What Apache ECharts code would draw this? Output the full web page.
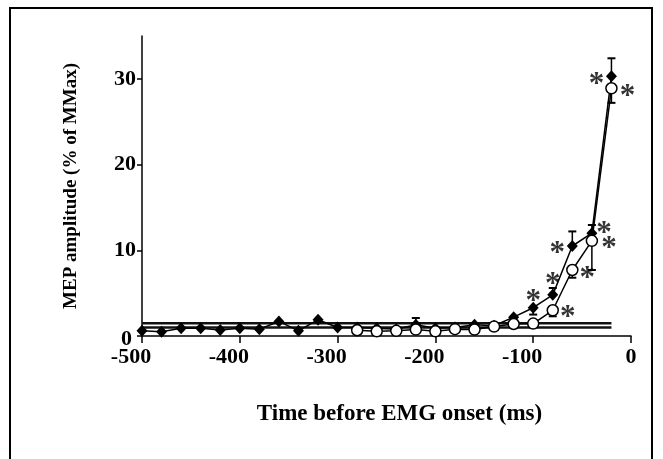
<!DOCTYPE html>
<html>
<head>
<meta charset="utf-8">
<script src="https://cdn.jsdelivr.net/npm/echarts@6/dist/echarts.min.js"></script>
<style>
html,body{margin:0;padding:0;background:#fff;}
#chart{width:663px;height:459px;}
</style>
</head>
<body>
<div id="chart"></div>
<script>
// ---- data ----
const times = [-500,-480,-460,-440,-420,-400,-380,-360,-340,-320,-300,-280,-260,-240,-220,-200,-180,-160,-140,-120,-100,-80,-60,-40,-20];
const filledMEP = [0.6,0.5,0.9,0.9,0.7,0.9,0.8,1.7,0.6,1.9,1.0,1.0,0.9,0.8,1.3,0.9,1.0,1.3,1.2,2.2,3.3,4.8,10.5,12.0,30.3];
const openMEP   = [null,null,null,null,null,null,null,null,null,null,null,0.67,0.55,0.6,0.75,0.55,0.8,0.75,1.1,1.4,1.45,3.0,7.7,11.1,28.9];
// error bar ends (same time index as the series)
const filledErrTimes = [-220,-100,-80,-60,-40,-20];
const filledErrEnds  = [2.1,2.5,5.6,12.2,12.95,32.4];
const openErrTimes   = [-80,-60,-40,-20];
const openErrEnds    = [2.3,6.8,7.7,27.2];
// significance asterisks
const filledStarTimes = [-100,-80,-60,-40,-20];
const openStarTimes   = [-80,-60,-40,-20];
// baseline reference band
const baselineTimes = [-500,-20];
const baselineHigh = [1.5,1.5];
const baselineLow  = [1.0,1.0];
const xTicks = [-500,-400,-300,-200,-100,0];
const yTicks = [0,10,20,30];

// ---- build ----
const valAt = (arr, t) => arr[times.indexOf(t)];
const serif = 'Liberation Serif';
const filledStarOffsets = {'-100':[0,-6],'-80':[0,-10],'-60':[-15,8],'-40':[12,1],'-20':[-15,9]};
const openStarOffsets   = {'-80':[15,8],'-60':[15,9],'-40':[17,8],'-20':[16,9]};

function errData(ts, ends, arr){ return ts.map((t,i)=>[t, valAt(arr,t), ends[i]]); }
function errSeries(data, z){
  return {
    type:'custom', z:z, silent:true,
    data:data,
    encode:{x:0,y:[1,2]},
    renderItem:function(params, api){
      const p0 = api.coord([api.value(0), api.value(1)]);
      const p1 = api.coord([api.value(0), api.value(2)]);
      const w = 4;
      return {type:'group', children:[
        {type:'line', shape:{x1:p0[0],y1:p0[1],x2:p1[0],y2:p1[1]}, style:{stroke:'#000',lineWidth:1.5}},
        {type:'line', shape:{x1:p1[0]-w,y1:p1[1],x2:p1[0]+w,y2:p1[1]}, style:{stroke:'#000',lineWidth:2}}
      ]};
    }
  };
}
function starSeries(ts, arr, offs){
  return {
    type:'scatter', symbolSize:0, z:10, silent:true,
    data: ts.map(t=>({value:[t, valAt(arr,t)], label:{offset:offs[String(t)]}})),
    label:{show:true, position:'inside', formatter:'*', color:'#000',
           fontFamily:serif, fontWeight:'bold', fontSize:31}
  };
}

const chart = echarts.init(document.getElementById('chart'), null, {renderer:'canvas'});
chart.setOption({
  animation:false,
  backgroundColor:'#fff',
  grid:{left:142, right:32, top:36, bottom:123},
  graphic:[{type:'rect', shape:{x:10,y:8,width:642,height:470}, style:{fill:'none',stroke:'#000',lineWidth:2}, z:100}],
  xAxis:{
    type:'value', min:-500, max:0, interval:100,
    name:'Time before EMG onset (ms)', nameLocation:'middle', nameGap:67,
    nameTextStyle:{fontFamily:serif, fontWeight:'bold', fontSize:23, color:'#000', padding:[0,0,0,26]},
    axisLine:{onZero:false, lineStyle:{color:'#000', width:1.5}},
    axisTick:{show:true, inside:false, length:7, lineStyle:{color:'#000', width:1.5}, customValues:xTicks},
    axisLabel:{margin:10, fontFamily:serif, fontWeight:'bold', fontSize:22, color:'#000', customValues:xTicks,
               formatter:function(v){ return v < 0 ? v + '\u2002\u2002' : String(v); }},
    splitLine:{show:false}
  },
  yAxis:{
    type:'value', min:0, max:35,
    name:'MEP amplitude (% of MMax)', nameLocation:'middle', nameGap:61, nameRotate:90,
    nameTextStyle:{fontFamily:serif, fontWeight:'bold', fontSize:19, color:'#000'},
    axisLine:{show:true, onZero:false, lineStyle:{color:'#000', width:1.5}},
    axisTick:{show:true, inside:false, length:5, lineStyle:{color:'#000', width:1.5}, customValues:yTicks},
    axisLabel:{margin:6, fontFamily:serif, fontWeight:'bold', fontSize:22, color:'#000', customValues:yTicks,
               formatter:function(v){ return v === 0 ? '{z|0}' : String(v); },
               rich:{z:{fontFamily:serif, fontWeight:'bold', fontSize:22, color:'#000', padding:[6,4,0,0]}}},
    splitLine:{show:false}
  },
  series:[
    {type:'line', z:1, silent:true, symbol:'none', data:baselineTimes.map((t,i)=>[t,baselineHigh[i]]), lineStyle:{color:'#111', width:2.5}},
    {type:'line', z:1, silent:true, symbol:'none', data:baselineTimes.map((t,i)=>[t,baselineLow[i]]), lineStyle:{color:'#111', width:2.5}},
    errSeries(errData(filledErrTimes, filledErrEnds, filledMEP), 3),
    {type:'line', z:4, name:'filled', data:times.map((t,i)=>[t,filledMEP[i]]),
     symbol:'diamond', symbolSize:[11,12], itemStyle:{color:'#000'}, lineStyle:{color:'#000', width:1.5}},
    errSeries(errData(openErrTimes, openErrEnds, openMEP), 5),
    {type:'line', z:6, name:'open', data:times.map((t,i)=>[t,openMEP[i]]),
     symbol:'circle', symbolSize:11, itemStyle:{color:'#fff', borderColor:'#000', borderWidth:1.5}, lineStyle:{color:'#000', width:1.5}},
    starSeries(filledStarTimes, filledMEP, filledStarOffsets),
    starSeries(openStarTimes, openMEP, openStarOffsets)
  ]
});
</script>
</body>
</html>
